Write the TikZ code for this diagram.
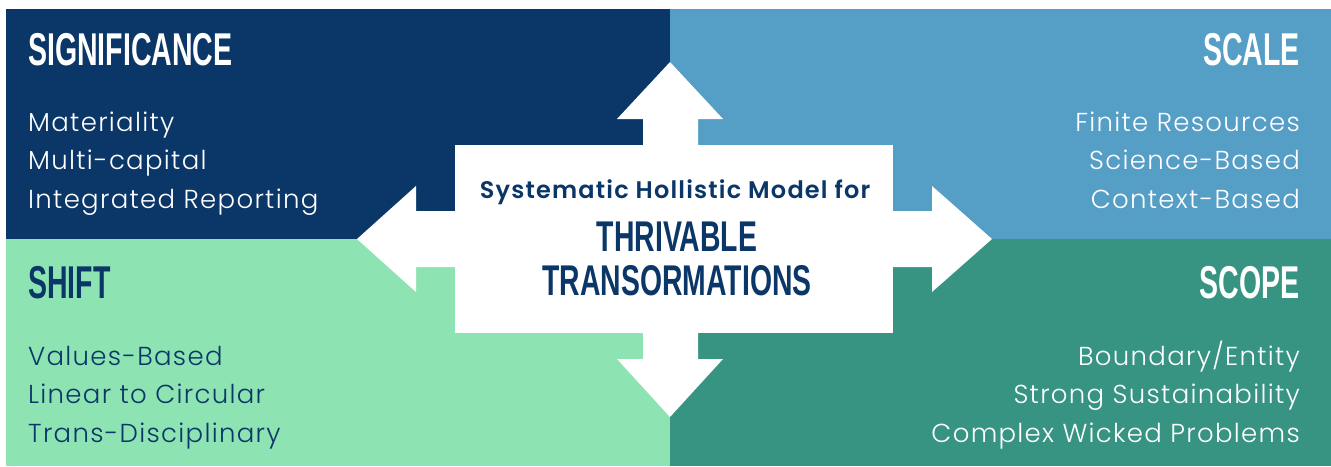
\documentclass[tikz,border=0pt]{standalone}
\usepackage{fontspec}
\setmainfont{Poppins}[UprightFont={* Light}, BoldFont={* SemiBold}, LetterSpace=5]
\newfontfamily\headfont[FakeStretch=0.62]{Liberation Sans}
\newfontfamily\titlefont[FakeStretch=0.66]{Liberation Sans}
\definecolor{navyblue}{HTML}{0B3768}
\definecolor{skyblue}{HTML}{559EC6}
\definecolor{mintgreen}{HTML}{8DE3B2}
\definecolor{seagreen}{HTML}{379482}
\tikzset{
  head/.style={font=\headfont\bfseries\fontsize{46}{46}\selectfont, inner sep=0pt},
  item/.style={font=\fontsize{26}{30}\selectfont, inner sep=0pt},
}

\begin{document}
\begin{tikzpicture}[x=1pt,y=-1pt]
\useasboundingbox (0,0) rectangle (1331,466);
% quadrants
\fill[navyblue] (6,9) rectangle (670,239);
\fill[skyblue] (670,9) rectangle (1331,239);
\fill[mintgreen] (6,239) rectangle (670,466);
\fill[seagreen] (670,239) rectangle (1331,466);
% the two double arrows
\fill[white] (357,239) -- (416,186) -- (416,211) -- (932,211) -- (932,186) -- (992,239)
  -- (932,292) -- (932,267) -- (416,267) -- (416,292) -- cycle;
\fill[white] (670,62) -- (723,119) -- (698,119) -- (698,359) -- (723,359) -- (670,417)
  -- (617,359) -- (643,359) -- (643,119) -- (617,119) -- cycle;
\node[fill=white, minimum width=438pt, minimum height=188pt, inner sep=0pt] (core) at (674,239) {};
\node[inner sep=0pt, anchor=base, text=navyblue, font=\bfseries\fontsize{24}{24}\selectfont] (model) at (675,198) {Systematic Hollistic Model for};
\node[head, anchor=base, text=navyblue, font=\titlefont\bfseries\fontsize{43}{43}\selectfont] (thrivable) at (677,251) {THRIVABLE};
\node[head, anchor=base, text=navyblue, font=\titlefont\bfseries\fontsize{43}{43}\selectfont] (transform) at (677,295) {TRANSORMATIONS};
% significance
\node[head, anchor=base west, text=white] (significance) at (28,65) {SIGNIFICANCE};
\node[item, anchor=base west, text=white] (sig1) at (28,131) {Materiality};
\node[item, anchor=base west, text=white] (sig2) at (28,169.5) {Multi-capital};
\node[item, anchor=base west, text=white] (sig3) at (28,208) {Integrated Reporting};
% scale
\node[head, anchor=base east, text=white] (scale) at (1300,65) {SCALE};
\node[item, anchor=base east, text=white] (sca1) at (1300,131) {Finite Resources};
\node[item, anchor=base east, text=white] (sca2) at (1300,169.5) {Science-Based};
\node[item, anchor=base east, text=white] (sca3) at (1300,208) {Context-Based};
% shift
\node[head, anchor=base west, text=navyblue] (shift) at (28,298) {SHIFT};
\node[item, anchor=base west, text=navyblue] (shi1) at (28,365) {Values-Based};
\node[item, anchor=base west, text=navyblue] (shi2) at (28,403.5) {Linear to Circular};
\node[item, anchor=base west, text=navyblue] (shi3) at (28,442) {Trans-Disciplinary};
% scope
\node[head, anchor=base east, text=white] (scope) at (1300,298) {SCOPE};
\node[item, anchor=base east, text=white] (sco1) at (1300,365) {Boundary/Entity};
\node[item, anchor=base east, text=white] (sco2) at (1300,403.5) {Strong Sustainability};
\node[item, anchor=base east, text=white] (sco3) at (1300,442) {Complex Wicked Problems};
\end{tikzpicture}
\end{document}
